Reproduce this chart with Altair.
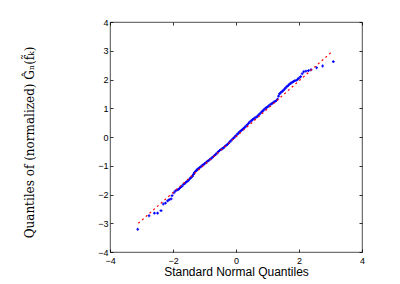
import altair as alt
import pandas as pd

# Sample quantiles (x: standard normal quantiles, y: data quantiles)
qx = [-3.12, -2.76, -2.59, -2.49, -2.38, -2.31, -2.24, -2.17, -2.12, -2.06, -2.03, -1.97, -1.93,
      -1.88, -1.84, -1.80, -1.76, -1.72, -1.68, -1.64, -1.60, -1.56, -1.52, -1.49, -1.45, -1.42,
      -1.38, -1.35, -1.32, -1.29, -1.26, -1.23, -1.20, -1.16, -1.12, -1.08, -1.04, -1.00, -0.96,
      -0.92, -0.88, -0.84, -0.80, -0.76, -0.72, -0.68, -0.64, -0.60, -0.56, -0.52, -0.48, -0.44,
      -0.40, -0.36, -0.32, -0.28, -0.24, -0.20, -0.16, -0.12, -0.08, -0.04, 0.00, 0.04, 0.08,
      0.12, 0.16, 0.20, 0.24, 0.28, 0.32, 0.36, 0.40, 0.44, 0.48, 0.52, 0.56, 0.60, 0.64, 0.68,
      0.72, 0.76, 0.80, 0.84, 0.88, 0.92, 0.96, 1.00, 1.04, 1.08, 1.12, 1.16, 1.20, 1.24, 1.28,
      1.32, 1.35, 1.38, 1.42, 1.46, 1.50, 1.54, 1.58, 1.62, 1.66, 1.70, 1.74, 1.78, 1.82, 1.86,
      1.91, 1.96, 2.00, 2.05, 2.10, 2.15, 2.22, 2.30, 2.38, 2.56, 2.75, 3.09]
qy = [-3.21, -2.74, -2.65, -2.65, -2.56, -2.33, -2.30, -2.22, -2.18, -2.15, -2.04, -1.94, -1.88,
      -1.85, -1.83, -1.79, -1.75, -1.72, -1.66, -1.62, -1.59, -1.55, -1.52, -1.48, -1.43, -1.40,
      -1.36, -1.30, -1.24, -1.20, -1.17, -1.13, -1.10, -1.07, -1.04, -1.00, -0.96, -0.93, -0.90,
      -0.86, -0.82, -0.79, -0.76, -0.72, -0.68, -0.64, -0.60, -0.56, -0.51, -0.47, -0.44, -0.41,
      -0.38, -0.34, -0.30, -0.26, -0.22, -0.17, -0.13, -0.08, -0.04, 0.00, 0.05, 0.10, 0.14,
      0.18, 0.22, 0.26, 0.30, 0.34, 0.38, 0.43, 0.48, 0.52, 0.56, 0.60, 0.63, 0.66, 0.69, 0.72,
      0.77, 0.81, 0.86, 0.90, 0.94, 0.98, 1.02, 1.05, 1.08, 1.12, 1.15, 1.18, 1.21, 1.24, 1.27,
      1.32, 1.42, 1.50, 1.54, 1.58, 1.62, 1.67, 1.71, 1.76, 1.80, 1.84, 1.87, 1.90, 1.93, 1.95,
      1.97, 2.01, 2.05, 2.10, 2.20, 2.27, 2.29, 2.31, 2.34, 2.41, 2.47, 2.62]

# Reference line endpoints
line_x = [-3.10, 3.07]
line_y = [-3.00, 2.99]

x_ticks = [-4, -2, 0, 2, 4]
y_ticks = [-4, -3, -2, -1, 0, 1, 2, 3, 4]

pts = pd.DataFrame({"x": qx, "y": qy})
ref = pd.DataFrame({"x": line_x, "y": line_y})

xs = alt.Scale(domain=[-4, 4], nice=False, zero=False)
ys = alt.Scale(domain=[-4, 4], nice=False, zero=False)

common = dict(domain=False, grid=False, tickColor="#000000", tickSize=3, tickWidth=0.8,
              offset=-3, labelFont="Liberation Sans", labelFontSize=9, labelColor="#000000",
              labelFlush=False, labelOverlap=False)

points = alt.Chart(pts).mark_point(shape="cross", filled=True, size=8, color="#0000ff", opacity=1).encode(
    x=alt.X("x:Q", scale=xs, axis=alt.Axis(
        values=x_ticks, orient="bottom", labelPadding=4,
        title="Standard Normal Quantiles", titleFont="Liberation Sans", titleFontSize=12,
        titleFontWeight="normal", titleColor="#000000", titlePadding=1, **common)),
    y=alt.Y("y:Q", scale=ys, axis=alt.Axis(
        values=y_ticks, orient="left", labelPadding=2,
        title="Quantiles of (normalized) Ĝₙ(f̃ₖ)", titleFont="DejaVu Serif", titleFontSize=12,
        titleFontWeight="normal", titleColor="#000000", titleX=-77, titleY=120, **common)),
)

line = alt.Chart(ref).mark_line(color="#ff0000", strokeDash=[2, 3], strokeWidth=1.2).encode(
    x=alt.X("x:Q", scale=xs, axis=alt.Axis(values=x_ticks, orient="top", labels=False, title="", **common)),
    y=alt.Y("y:Q", scale=ys, axis=alt.Axis(values=y_ticks, orient="right", labels=False, title="", **common)),
)

chart = alt.layer(points, line).resolve_axis(x="independent", y="independent").properties(
    width=252, height=230, autosize="none",
    padding={"left": 102, "top": 14, "right": 30, "bottom": 30},
).configure_view(stroke="#222222", strokeWidth=0.8)

chart.save("out.html", embed_options={"renderer": "svg", "actions": False})
